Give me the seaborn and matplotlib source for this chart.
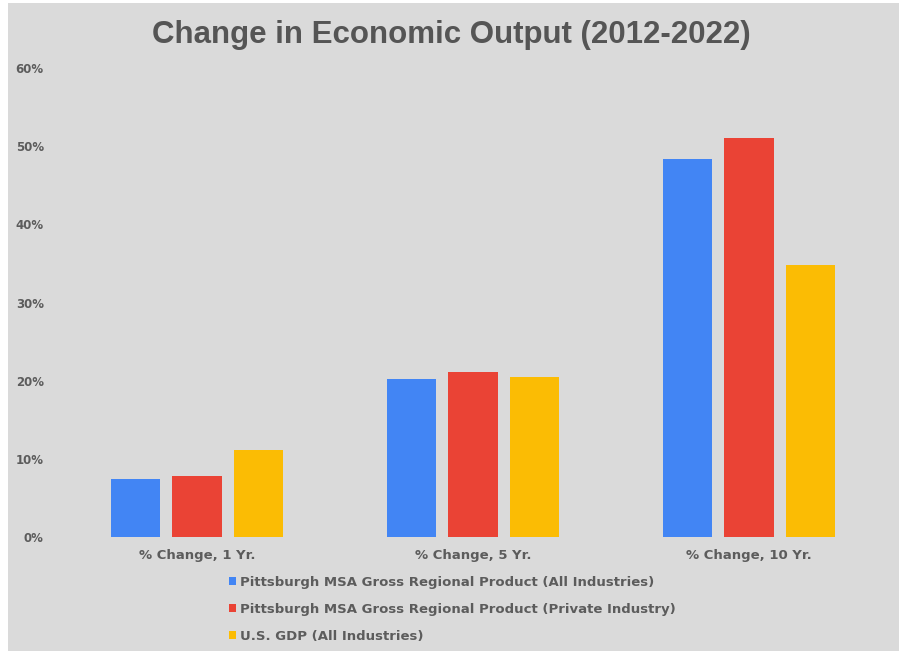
import matplotlib
matplotlib.use("Agg")
import matplotlib.pyplot as plt
import matplotlib.patches as mpatches
import seaborn as sns
import pandas as pd

categories = ["% Change, 1 Yr.", "% Change, 5 Yr.", "% Change, 10 Yr."]
series_names = [
    "Pittsburgh MSA Gross Regional Product (All Industries)",
    "Pittsburgh MSA Gross Regional Product (Private Industry)",
    "U.S. GDP (All Industries)",
]
msa_all = [7.4, 20.2, 48.3]
msa_private = [7.8, 21.1, 51.0]
us_gdp = [11.1, 20.5, 34.8]
y_ticks = [0, 10, 20, 30, 40, 50, 60]
y_tick_labels = ["0%", "10%", "20%", "30%", "40%", "50%", "60%"]
colors = ["#4285F4", "#EA4335", "#FBBC04"]

rows = []
for name, vals in zip(series_names, [msa_all, msa_private, us_gdp]):
    for c, v in zip(categories, vals):
        rows.append({"category": c, "series": name, "value": v})
df = pd.DataFrame(rows)

sns.set_theme(style="white")
plt.rcParams["font.family"] = ["Liberation Sans", "DejaVu Sans"]

W, H = 902, 651
bg = "#dadada"
txt = "#5c5c5c"
fig = plt.figure(figsize=(W / 100, H / 100), dpi=100)
fig.patch.set_facecolor("white")
fig.patches.append(mpatches.Rectangle((8 / W, 0), (899 - 8) / W, (H - 3) / H,
                                      transform=fig.transFigure, facecolor=bg,
                                      edgecolor="none", zorder=-10))

ax_left, ax_right, ax_top, ax_bot = 73, 873, 68, 537
ax = fig.add_axes([ax_left / W, (H - ax_bot) / H, (ax_right - ax_left) / W, (ax_bot - ax_top) / H])
ax.set_facecolor(bg)

sns.barplot(data=df, x="category", y="value", hue="series", palette=colors,
            hue_order=series_names, order=categories, width=0.669, gap=0.2,
            saturation=1, linewidth=0, edgecolor="none", ax=ax, legend=True)

ax.set_xlim(-0.449, 2.449)
ax.set_ylim(0, 60)
ax.set_yticks(y_ticks)
ax.set_yticklabels(y_tick_labels)
for s in ax.spines.values():
    s.set_visible(False)
ax.set_xlabel("")
ax.set_ylabel("")
ax.tick_params(axis="y", length=0, pad=21, labelcolor=txt)
ax.tick_params(axis="x", length=0, pad=9, labelcolor=txt)
for t in ax.get_yticklabels():
    t.set_fontfamily("DejaVu Sans")
    t.set_fontweight("bold")
    t.set_fontsize(8.5)
for t in ax.get_xticklabels():
    t.set_fontfamily("DejaVu Sans")
    t.set_fontweight("bold")
    t.set_fontsize(9.5)
ax.grid(False)

fig.text(451 / W, 1 - 35 / H, "Change in Economic Output (2012-2022)", ha="center", va="center",
         fontsize=22.5, fontweight="bold", color="#555555")

handles, labels = ax.get_legend_handles_labels()
ax.legend_.remove()
leg = fig.legend(handles, labels, loc="upper left", bbox_to_anchor=(229 / W, 1 - 576 / H),
                 frameon=False, ncol=1, handlelength=0.55, handleheight=0.55, handletextpad=0.25,
                 labelspacing=1.05, borderaxespad=0, borderpad=0,
                 prop={"size": 9.5, "weight": "bold", "family": "DejaVu Sans"})
for t in leg.get_texts():
    t.set_color(txt)

fig.savefig("out.png", dpi=100, facecolor=fig.get_facecolor())
